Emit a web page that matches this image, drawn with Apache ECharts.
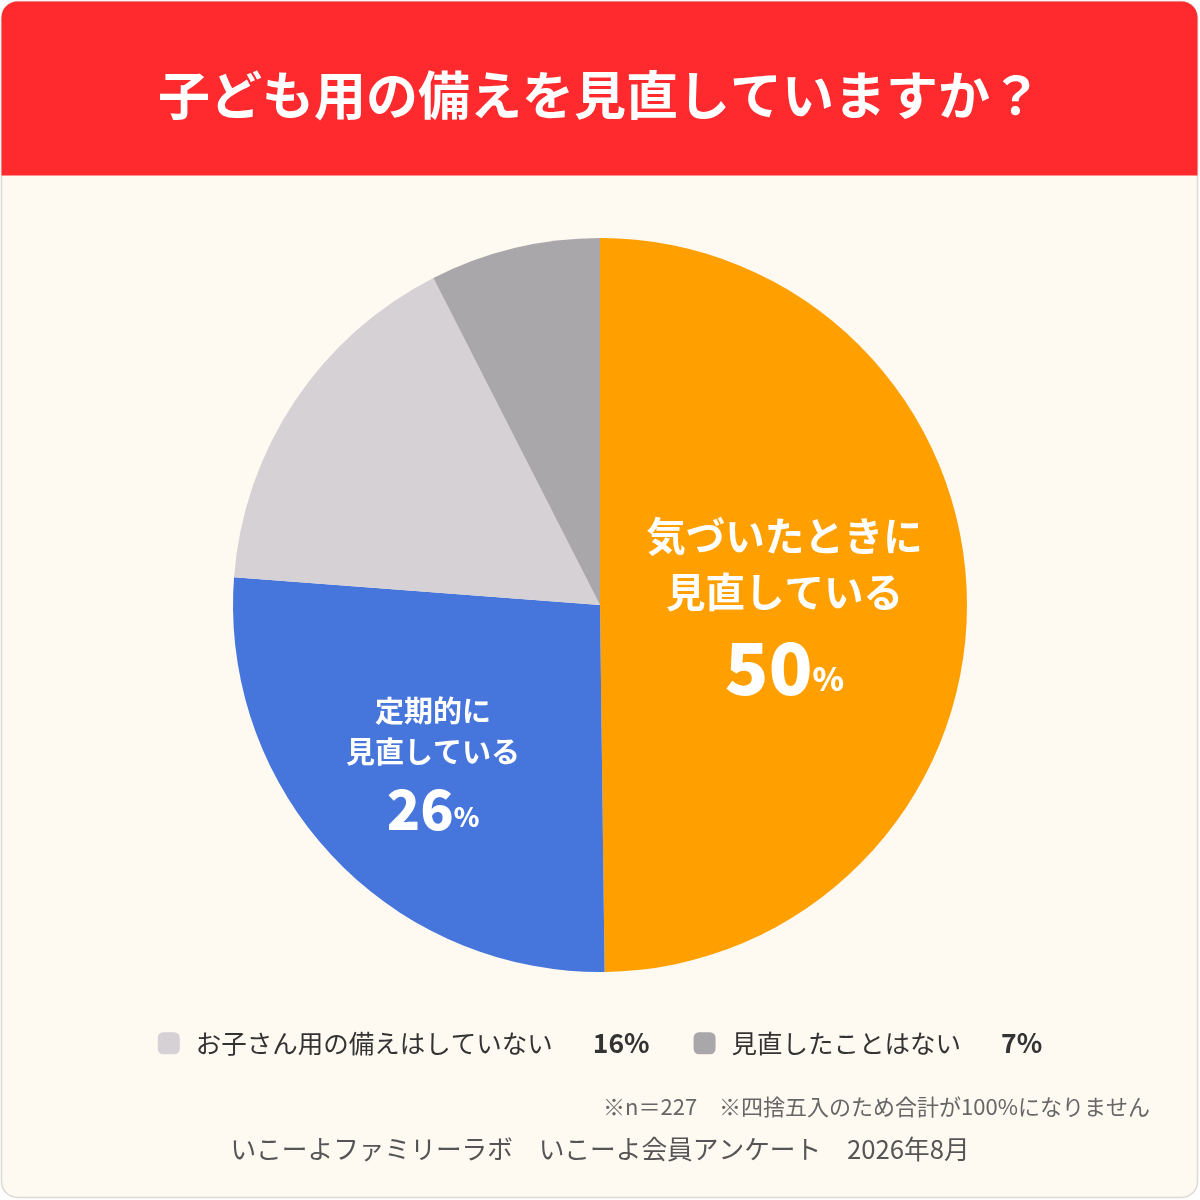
<!DOCTYPE html>
<html><head><meta charset="utf-8">
<script src="https://cdn.jsdelivr.net/npm/echarts@6/dist/echarts.min.js"></script>
<style>html,body{margin:0;padding:0;background:#fff;}#c{width:1200px;height:1200px;}</style>
</head><body><div id="c"></div>
<script>
const titleText = '子ども用の備えを見直していますか？';
const categories = ['気づいたときに見直している', '定期的に見直している', 'お子さん用の備えはしていない', '見直したことはない'];
const labelLines = [['気づいたときに', '見直している'], ['定期的に', '見直している'], null, null];
const shares = [49.8, 26.4, 16.3, 7.5];      // estimated slice shares (n=227)
const displayPct = [50, 26, 16, 7];          // rounded values shown
const colors = ['#FFA000', '#4675DB', '#D5D1D5', '#AAA7AB'];
const noteText = '※n＝227　※四捨五入のため合計が100%になりません';
const sourceText = 'いこーよファミリーラボ　いこーよ会員アンケート　2026年8月';

const FONT = '"Noto Sans CJK JP", "Noto Sans", sans-serif';
const chart = echarts.init(document.getElementById('c'), null, {renderer: 'canvas'});

const data = categories.map((n, i) => ({
  name: n, value: shares[i], itemStyle: {color: colors[i]},
  label: labelLines[i] ? {
    show: true,
    formatter: (i === 0
      ? '{a|' + labelLines[i][0] + '}\n{a|' + labelLines[i][1] + '}\n{p|' + displayPct[i] + '}{s|%}'
      : '{b|' + labelLines[i][0] + '}\n{b|' + labelLines[i][1] + '}\n{q|' + displayPct[i] + '}{t|%}')
  } : {show: false}
}));

const legendPct = {};
categories.forEach((n, i) => legendPct[n] = displayPct[i]);

chart.setOption({
  backgroundColor: '#ffffff',
  animation: false,
  graphic: [
    {type: 'rect', z: 0, shape: {x: 1.5, y: 1.5, width: 1196, height: 1196, r: 16},
     style: {fill: '#FEFAF2', stroke: '#DDDAD5', lineWidth: 1.5}},
    {type: 'rect', z: 1, shape: {x: 1.5, y: 1.5, width: 1196, height: 174, r: [16, 16, 0, 0]},
     style: {fill: '#FF2A2E'}},
    {type: 'text', z: 5, right: 50, top: 1096,
     style: {text: noteText, fill: '#666', font: '22px ' + FONT}},
    {type: 'text', z: 5, left: 'center', top: 1136,
     style: {text: sourceText, fill: '#555', font: '25.7px ' + FONT}}
  ],
  title: {
    text: titleText, left: 'center', top: 64,
    textStyle: {color: '#fff', fontSize: 52, fontWeight: 'bold', fontFamily: FONT}
  },
  legend: {
    left: 'center', top: 1025,
    data: [categories[2], categories[3]],
    icon: 'roundRect', itemWidth: 22, itemHeight: 22, itemGap: 44,
    selectedMode: false,
    formatter: n => '{n|' + n + '}{p|' + legendPct[n] + '%}',
    textStyle: {
      fontFamily: FONT,
      rich: {
        n: {fontSize: 25.5, color: '#333', fontFamily: FONT, padding: [0, 40, 0, 11]},
        p: {fontSize: 26.5, color: '#333', fontWeight: 'bold', fontFamily: FONT}
      }
    }
  },
  series: [{
    type: 'pie',
    center: [600, 605],
    radius: [0, 367],
    startAngle: 90,
    clockwise: true,
    silent: true,
    itemStyle: {borderWidth: 0},
    label: {
      position: 'inside',
      align: 'center',
      fontFamily: FONT,
      rich: {
        a: {fontSize: 39.5, color: '#fff', fontWeight: 'bold', fontFamily: FONT, lineHeight: 56, align: 'center'},
        p: {fontSize: 72, color: '#fff', fontWeight: 900, fontFamily: FONT, lineHeight: 96, align: 'center'},
        s: {fontSize: 32, color: '#fff', fontWeight: 900, fontFamily: FONT, lineHeight: 96, padding: [22, 0, 0, 0]},
        b: {fontSize: 29, color: '#fff', fontWeight: 'bold', fontFamily: FONT, lineHeight: 41, align: 'center'},
        q: {fontSize: 55, color: '#fff', fontWeight: 900, fontFamily: FONT, lineHeight: 72, align: 'center'},
        t: {fontSize: 26, color: '#fff', fontWeight: 900, fontFamily: FONT, lineHeight: 72, padding: [16, 0, 0, 0]}
      }
    },
    labelLine: {show: false},
    labelLayout: function (p) {
      if (p.dataIndex === 0) return {dx: -2, dy: 8};
      if (p.dataIndex === 1) return {dx: -31, dy: 35};
      return {};
    },
    data: data
  }]
});
</script></body></html>
